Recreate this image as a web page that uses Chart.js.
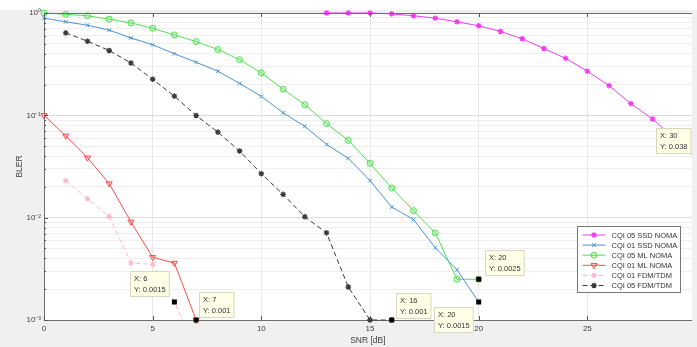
<!DOCTYPE html>
<html><head><meta charset="utf-8">
<script src="https://cdn.jsdelivr.net/npm/chart.js@4/dist/chart.umd.min.js"></script>
<style>html,body{margin:0;padding:0;background:#fff;}canvas{display:block;}</style>
</head><body>
<canvas id="c" width="697" height="347"></canvas>
<script>
// ---------- data ----------
const ssd05X = [13,14,15,16,17,18,19,20,21,22,23,24,25,26,27,28,29,30];
const ssd05Y = [1.0,1.0,1.0,0.98,0.94,0.89,0.82,0.75,0.66,0.56,0.45,0.36,0.27,0.195,0.13,0.092,0.06,0.038];

const ssd01X = [0,1,2,3,4,5,6,7,8,9,10,11,12,13,14,15,16,17,18,19,20];
const ssd01Y = [0.89,0.82,0.76,0.68,0.57,0.49,0.40,0.33,0.27,0.205,0.153,0.106,0.078,0.052,0.038,0.023,0.0127,0.0096,0.0051,0.0031,0.0015];

const ml05X = [0,1,2,3,4,5,6,7,8,9,10,11,12,13,14,15,16,17,18,19,20];
const ml05Y = [1.0,0.97,0.94,0.87,0.80,0.71,0.61,0.525,0.44,0.35,0.26,0.18,0.127,0.083,0.057,0.034,0.0195,0.0117,0.0071,0.0025,0.0025];

const ml01X = [0,1,2,3,4,5,6,7];
const ml01Y = [0.1,0.063,0.0385,0.0215,0.0091,0.0041,0.0036,0.001];

const fdm01X = [1,2,3,4,5,6,7];
const fdm01Y = [0.023,0.0153,0.0103,0.0036,0.0035,0.0015,0.0005];

const fdm05X = [1,2,3,4,5,6,7,8,9,10,11,12,13,14,15,16];
const fdm05Y = [0.64,0.53,0.43,0.325,0.225,0.154,0.0995,0.0685,0.0448,0.0269,0.0169,0.0102,0.0071,0.0021,0.001,0.001];

const tipX = [6,7,16,20,20,30];
const tipY = [0.0015,0.001,0.001,0.0015,0.0025,0.038];

const seriesLabels = ['CQI 05 SSD NOMA','CQI 01 SSD NOMA','CQI 05 ML NOMA','CQI 01 ML NOMA','CQI 01 FDM/TDM','CQI 05 FDM/TDM'];
const xTickValues = [0,5,10,15,20,25];
const yMajorValues = [0.001,0.01,0.1,1];
const yTickLabels = ['10\u207B\u00B3','10\u207B\u00B2','10\u207B\u00B9','10\u2070'];
const xTitle = 'SNR [dB]';
const yTitle = 'BLER';

// ---------- styles ----------
const tipOffsets = [[-44,-31],[3,-28],[4,-27],[-45,5],[6,-29],[-40,-30]];
const FONT = "'Liberation Sans', Arial, sans-serif";

const pts = (xs, ys) => xs.map((x,i)=>({x:x, y:ys[i]}));
const yTickVals = [];
yMajorValues.forEach((d,k)=>{ if (k===yMajorValues.length-1) { yTickVals.push(d); return; } for (let m=1;m<=9;m++) yTickVals.push(+(d*m).toPrecision(3)); });

const styles = [
  {color:'#f23cf2', fill:'#f23cf2', ps:'star', r:2.8, bw:1.3, dash:[]},
  {color:'#4b92d6', fill:'rgba(0,0,0,0)', ps:'crossRot', r:2.6, bw:1, dash:[]},
  {color:'#52e052', fill:'rgba(82,224,82,0.25)', ps:'circle', r:3, bw:1, dash:[]},
  {color:'#f05252', fill:'rgba(240,82,82,0.2)', ps:'triangle', r:3.5, bw:1, dash:[], rot:180},
  {color:'#ffb5c9', fill:'#ffb5c9', ps:'star', r:2.8, bw:1.1, dash:[5,3]},
  {color:'#3a3a3a', fill:'#3a3a3a', ps:'star', r:2.8, bw:1.3, dash:[5,3]}
];
const seriesData = [pts(ssd05X,ssd05Y), pts(ssd01X,ssd01Y), pts(ml05X,ml05Y), pts(ml01X,ml01Y), pts(fdm01X,fdm01Y), pts(fdm05X,fdm05Y)];

const datasets = seriesData.map((d,i)=>({
  label: seriesLabels[i], data: d, borderColor: styles[i].color, backgroundColor: styles[i].fill,
  borderWidth: 1, borderDash: styles[i].dash, pointStyle: styles[i].ps, pointRadius: styles[i].r,
  pointBorderWidth: styles[i].bw, pointRotation: styles[i].rot||0, pointBackgroundColor: styles[i].fill,
  pointBorderColor: styles[i].color, tension: 0, order: i+1,
  clip: i===4 ? {left:6, top:6, right:0, bottom:0} : {left:6, top:6, right:0, bottom:6}
}));
datasets.push({label:'tips', data: pts(tipX, tipY), showLine:false, pointStyle:'rect', pointRadius:3.5,
  pointBackgroundColor:'#000', pointBorderColor:'#000', pointBorderWidth:0, order:0, clip:{left:8,top:8,right:0,bottom:8}});

const decor = {
  id:'decor',
  beforeDraw(chart){
    const ctx = chart.ctx, a = chart.chartArea;
    ctx.save();
    ctx.fillStyle = '#f0f0f0';
    ctx.fillRect(0, 10, chart.width, chart.height-10);
    ctx.fillStyle = '#ffffff';
    ctx.fillRect(a.left, a.top, a.right-a.left, a.bottom-a.top);
    ctx.restore();
  },
  afterDatasetsDraw(chart){
    const ctx = chart.ctx, a = chart.chartArea;
    const xs = chart.scales.x, ys = chart.scales.y;
    ctx.save();
    ctx.strokeStyle = '#6e6e6e'; ctx.lineWidth = 1;
    ctx.beginPath(); ctx.moveTo(a.left, a.top+0.5); ctx.lineTo(a.right, a.top+0.5); ctx.stroke();
    ctx.strokeStyle = '#555';
    xTickValues.forEach(v=>{ const px = Math.round(xs.getPixelForValue(v))+0.5;
      ctx.beginPath(); ctx.moveTo(px, a.bottom); ctx.lineTo(px, a.bottom-4); ctx.moveTo(px, a.top); ctx.lineTo(px, a.top+4); ctx.stroke(); });
    yTickVals.forEach(v=>{ const py = Math.round(ys.getPixelForValue(v))+0.5;
      const L = yMajorValues.includes(v) ? 4 : 2;
      ctx.beginPath(); ctx.moveTo(a.left, py); ctx.lineTo(a.left+L, py); ctx.stroke(); });
    const meta = chart.getDatasetMeta(chart.data.datasets.length-1);
    ctx.font = '7.5px ' + FONT; ctx.textBaseline = 'middle'; ctx.textAlign = 'left';
    meta.data.forEach((el,j)=>{
      const l1 = 'X: ' + tipX[j], l2 = 'Y: ' + tipY[j];
      const w = Math.max(ctx.measureText(l1).width, ctx.measureText(l2).width) + 7, h = 25;
      const bx = Math.round(el.x + tipOffsets[j][0]) + 0.5, by = Math.round(el.y + tipOffsets[j][1]) + 0.5;
      ctx.fillStyle = '#ffffe8'; ctx.strokeStyle = '#d8d8c0';
      ctx.fillRect(bx, by, w, h); ctx.strokeRect(bx, by, w, h);
      ctx.fillStyle = '#333';
      ctx.fillText(l1, bx+3.5, by+7.5); ctx.fillText(l2, bx+3.5, by+18);
    });
    const lx = 577.5, ly = 226.5, lw = 103, lh = 66;
    ctx.fillStyle = '#fff'; ctx.fillRect(lx, ly, lw, lh);
    ctx.strokeStyle = '#777'; ctx.lineWidth = 1; ctx.setLineDash([]); ctx.strokeRect(lx, ly, lw, lh);
    ctx.font = '7.5px ' + FONT;
    for (let i=0;i<6;i++){
      const ds = chart.data.datasets[i];
      const y = ly + 8.5 + i*10.1;
      ctx.strokeStyle = ds.borderColor; ctx.lineWidth = 1; ctx.setLineDash(ds.borderDash);
      ctx.beginPath(); ctx.moveTo(lx+5, y); ctx.lineTo(lx+28, y); ctx.stroke();
      ctx.setLineDash([]);
      ctx.fillStyle = ds.pointBackgroundColor; ctx.strokeStyle = ds.pointBorderColor; ctx.lineWidth = ds.pointBorderWidth;
      Chart.helpers.drawPoint(ctx, {pointStyle: ds.pointStyle, radius: ds.pointRadius, rotation: ds.pointRotation, borderWidth: ds.pointBorderWidth}, lx+16.5, y);
      ctx.fillStyle = '#333'; ctx.textAlign = 'left'; ctx.textBaseline = 'middle';
      ctx.fillText(ds.label, lx+34, y+0.5);
    }
    ctx.restore();
  }
};

new Chart(document.getElementById('c'), {
  type: 'line',
  data: { datasets },
  options: {
    responsive: false, animation: false, devicePixelRatio: 1,
    layout: { padding: { top: 13, left: 0, right: 0, bottom: 0 } },
    plugins: { legend: { display: false }, tooltip: { enabled: false } },
    scales: {
      x: { type: 'linear', min: 0, max: 29.8,
        afterBuildTicks: s => { s.ticks = xTickValues.map(v=>({value:v})); },
        afterFit: s => { s.height = 27; },
        ticks: { font: { family: FONT, size: 8 }, color: '#404040', padding: 4, maxRotation: 0, autoSkip: false },
        grid: { color: '#e6e6e6', drawTicks: false },
        border: { color: '#6e6e6e', width: 1 },
        title: { display: true, text: xTitle, font: { family: FONT, size: 8.5 }, color: '#404040', padding: { top: 0, bottom: 1 } }
      },
      y: { type: 'logarithmic', min: 0.001, max: 1,
        afterBuildTicks: s => { s.ticks = yTickVals.map(v=>({value:v})); },
        afterFit: s => { s.width = 44; },
        ticks: { font: { family: FONT, size: 8 }, color: '#404040', padding: 3, autoSkip: false,
          callback: v => { const k = yMajorValues.findIndex(m => Math.abs(m - v) < m*1e-6); return k >= 0 ? yTickLabels[k] : ''; } },
        grid: { color: ctx => (ctx.tick && yMajorValues.some(m => Math.abs(m-ctx.tick.value) < m*1e-6)) ? '#dcdcdc' : '#efefef', drawTicks: false },
        border: { color: '#6e6e6e', width: 1 },
        title: { display: true, text: yTitle, font: { family: FONT, size: 8.5 }, color: '#404040', padding: { top: 15, bottom: 0 } }
      }
    }
  },
  plugins: [decor]
});
</script>
</body></html>
